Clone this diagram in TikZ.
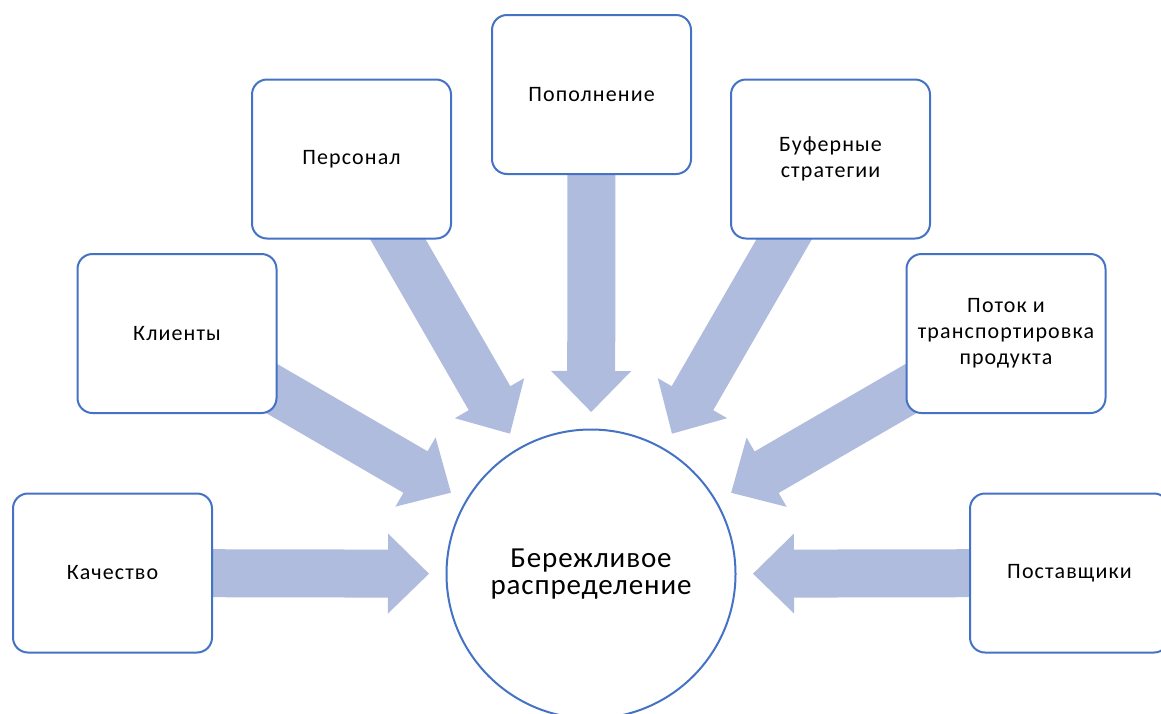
\documentclass[tikz,border=0pt]{standalone}
\usepackage{fontspec}
\setmainfont{Carlito}
\usetikzlibrary{calc,backgrounds}
\definecolor{boxline}{RGB}{68,114,196}
\definecolor{arrowfill}{RGB}{175,188,222}
\begin{document}
\begin{tikzpicture}[x=1pt,y=-1pt,
  box/.style={draw=boxline, line width=2pt, fill=white, rounded corners=15pt,
    minimum width=199pt, minimum height=159pt, align=center, inner sep=0pt,
    font=\fontsize{22}{26}\selectfont\addfontfeature{LetterSpace=5}},
  hub/.style={circle, draw=boxline, line width=2pt, fill=white, minimum size=289pt,
    align=center, inner sep=0pt, font=\fontsize{29}{27.5}\selectfont\addfontfeature{LetterSpace=3}}]
\clip (0,0) rectangle (1161,713);
\node[hub] (hub) at (591,574) {Бережливое\\распределение};
\node[box] (kach) at (112.5,573) {Качество};
\node[box] (klie) at (177,333.5) {Клиенты};
\node[box] (pers) at (351.5,159) {Персонал};
\node[box] (popo) at (591.5,94.5) {Пополнение};
\node[box] (bufe) at (830.5,159) {Буферные\\стратегии};
\node[box] (poto) at (1006,333.5) {Поток и\\транспортировка\\продукта};
\node[box] (post) at (1069.5,573) {Поставщики};
\begin{scope}[on background layer]
\foreach \b in {kach,klie,pers,popo,bufe,poto,post}{
  \coordinate (T) at ($(hub.center)!162pt!(\b.center)$);
  \coordinate (H) at ($(T)!41pt!(\b.center)$);
  \fill[arrowfill] ($(\b.center)!24pt!90:(T)$) -- ($(H)!24pt!-90:(\b.center)$)
    -- ($(H)!40pt!-90:(\b.center)$) -- (T) -- ($(H)!40pt!90:(\b.center)$)
    -- ($(H)!24pt!90:(\b.center)$) -- ($(\b.center)!24pt!-90:(T)$) -- cycle;
}
\end{scope}
\end{tikzpicture}
\end{document}
